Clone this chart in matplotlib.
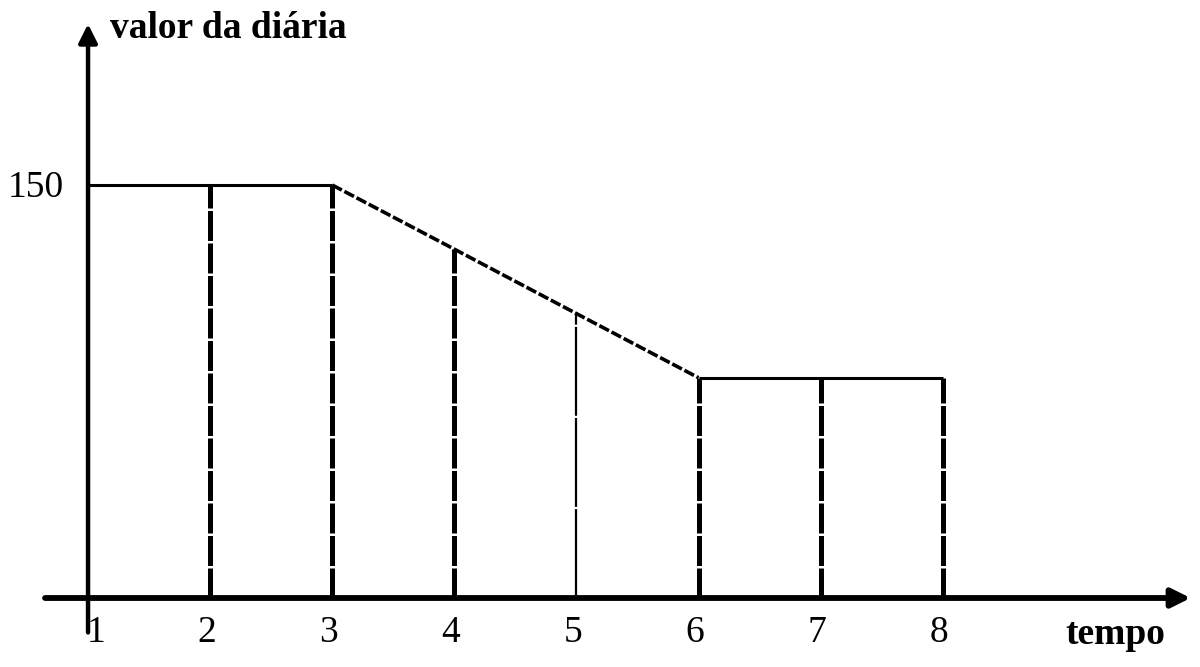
import matplotlib
matplotlib.use("Agg")
import matplotlib.pyplot as plt

tempo = [1, 2, 3, 4, 5, 6, 7, 8]
valor = [150, 150, 150, 126.7, 103.3, 80, 80, 80]
tick_labels = ["1", "2", "3", "4", "5", "6", "7", "8"]
y_label_value = 150

fig = plt.figure(figsize=(12, 6.67), dpi=100)
ax = fig.add_axes([0, 0, 1, 1])
ax.set_xlim(0.279, 10.107)
ax.set_ylim(-25.06, 217.2)
ax.axis("off")

font = dict(family=["Liberation Serif", "DejaVu Serif"], color="black")

# main polyline
ax.plot(tempo[:3], valor[:3], color="black", lw=2.2, solid_capstyle="butt")
ax.plot(tempo[2:6], valor[2:6], color="black", lw=2.6, ls=(0, (3, 0.8)))
ax.plot(tempo[5:], valor[5:], color="black", lw=2.2, solid_capstyle="butt")

# vertical lines
for t, v in zip(tempo[1:], valor[1:]):
    if t == 5:
        ax.plot([t, t], [0, v], color="black", lw=1.6, ls=(0, (40, 1)))
    else:
        ax.plot([t, t], [0, v], color="black", lw=3.6, ls=(0, (6, 0.5)))

# axes with arrows
ax.annotate("", xy=(10.03, 0), xytext=(0.648, 0),
            arrowprops=dict(arrowstyle="-|>", lw=4.2, color="black",
                            mutation_scale=28, shrinkA=0, shrinkB=0))
ax.annotate("", xy=(1, 208.5), xytext=(1, -12.5),
            arrowprops=dict(arrowstyle="-|>", lw=3.2, color="black",
                            mutation_scale=28, shrinkA=0, shrinkB=0))

# tick labels
for t, lab in zip(tempo, tick_labels):
    off = 0.07 if t == 1 else -0.03
    ax.text(t + off, -12.6, lab, ha="center", va="center", fontsize=27, **font)

ax.text(0.574, 149, str(y_label_value), ha="center", va="center", fontsize=27, **font)
ax.text(1.18, 207, "valor da diária", ha="left", va="center", fontsize=27,
        fontweight="bold", **font)
ax.text(9.41, -13.4, "tempo", ha="center", va="center", fontsize=27,
        fontweight="bold", **font)

fig.savefig("out.png", dpi=100)
